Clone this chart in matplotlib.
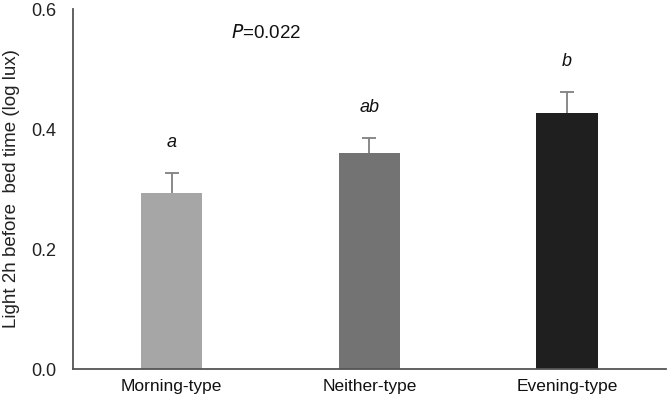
import matplotlib
matplotlib.use("Agg")
import matplotlib.pyplot as plt

categories = ["Morning-type", "Neither-type", "Evening-type"]
means = [0.293, 0.360, 0.427]
errors = [0.034, 0.025, 0.035]
letters = ["a", "ab", "b"]
colors = ["#a6a6a6", "#737373", "#1f1f1f"]
yticks = [0.0, 0.2, 0.4, 0.6]

plt.rcParams['font.family'] = ['Liberation Sans', 'DejaVu Sans']

fig = plt.figure(figsize=(6.68, 4.0), dpi=100)
ax = fig.add_axes([0.109, 0.0775, 0.888, 0.90])

x = list(range(len(categories)))
ax.bar(x, means, width=0.31, color=colors, zorder=2)
tops = [m + e for m, e in zip(means, errors)]
ax.errorbar(x, means, yerr=[[0]*3, errors], fmt='none', ecolor='#808080',
            elinewidth=1.3, capsize=0, zorder=3)
ax.plot(x, tops, linestyle='none', marker='_', markersize=10,
        markeredgewidth=1.3, color='#808080', zorder=3)

for xi, t, l in zip(x, tops, letters):
    ax.text(xi, t + 0.05, l, ha='center', va='center', fontsize=13,
            style='italic', color='#111111')

ax.text(0.48, 0.56, r"$\it{P}$=0.022", ha='center', va='center', fontsize=13.5, color='#111111')

ax.set_xlim(-0.5, 2.5)
ax.set_ylim(0, 0.6)
ax.set_yticks(yticks)
ax.set_yticklabels([f"{t:.1f}" for t in yticks], fontsize=13, color='#222222')
ax.set_xticks(x)
ax.set_xticklabels(categories, fontsize=12.5, color='#111111')
ax.tick_params(axis='x', length=0, pad=7)
ax.tick_params(axis='y', length=0, pad=12)
ax.set_ylabel("Light 2h before  bed time (log lux)", fontsize=13.5, color='#222222', labelpad=8)

for s in ['top', 'right']:
    ax.spines[s].set_visible(False)
for s in ['left', 'bottom']:
    ax.spines[s].set_color('#555555')
    ax.spines[s].set_linewidth(1.3)

fig.savefig("out.png", dpi=100)
